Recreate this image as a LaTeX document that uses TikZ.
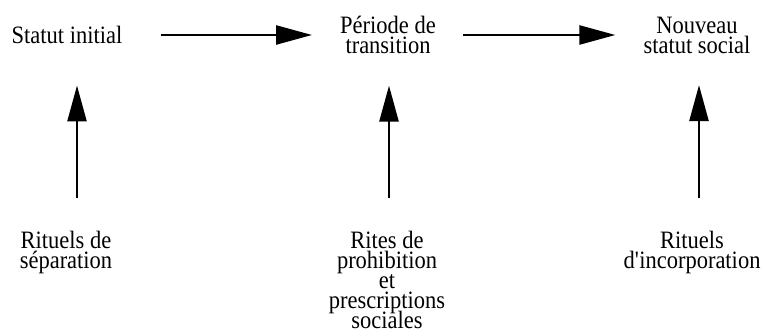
\documentclass[tikz,border=0pt]{standalone}
\usepackage{fontspec}
\setmainfont{Liberation Serif}[FakeStretch=0.9]
\usetikzlibrary{arrows.meta,positioning}
\lineskiplimit=-\maxdimen

\begin{document}
\begin{tikzpicture}[
    x=1pt, y=1pt,
    label/.style={inner sep=0pt, align=center, font=\fontsize{25}{20}\selectfont},
    arrow/.style={line width=2.5pt, -{Triangle[length=36pt,width=19pt]}}
]
    \useasboundingbox (0,0) rectangle (766,336);

    % Statuts
    \node[label] (init) at (67,301) {Statut initial};
    \node[label] (trans) at (388,301) {Période de\\transition};
    \node[label] (nouveau) at (697,301) {Nouveau\\statut social};

    % Rituels
    \node[label, anchor=north] (sep) at (66,105) {Rituels de\\séparation};
    \node[label, anchor=north] (prohib) at (387,105) {Rites de\\prohibition\\et\\prescriptions\\sociales};
    \node[label, anchor=north] (incorp) at (692,105) {Rituels\\d\textquotesingle incorporation};

    % Passages
    \draw[arrow, shorten <=38pt, shorten >=28pt] (init) -- (trans);
    \draw[arrow, shorten <=27pt, shorten >=28pt] (trans) -- (nouveau);

    % Rituels vers statuts
    \draw[arrow, shorten <=33pt, shorten >=41.5pt] ([xshift=11pt]sep.north) -- ([xshift=10pt]init.south);
    \draw[arrow, shorten <=33pt, shorten >=31.6pt] ([xshift=2pt]prohib.north) -- ([xshift=1pt]trans.south);
    \draw[arrow, shorten <=33pt, shorten >=31.6pt] ([xshift=7pt]incorp.north) -- ([xshift=2pt]nouveau.south);
\end{tikzpicture}
\end{document}
